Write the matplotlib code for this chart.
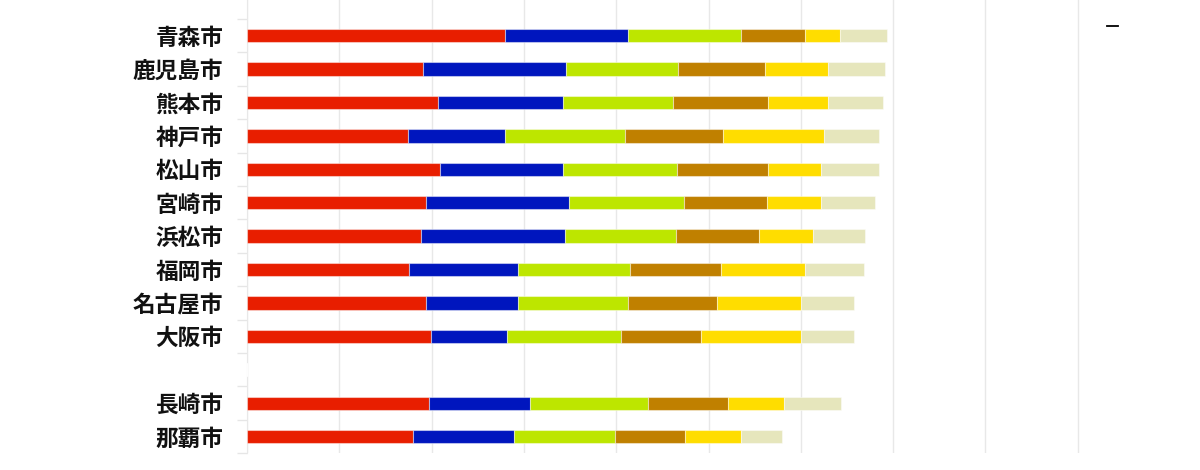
import matplotlib.pyplot as plt
import numpy as np
from matplotlib.lines import Line2D

plt.rcParams['font.family'] = ['Noto Sans CJK JP', 'DejaVu Sans']

# 都市 (上から順に), None = 空きスロット
cities = ['青森市', '鹿児島市', '熊本市', '神戸市', '松山市', '宮崎市', '浜松市',
          '福岡市', '名古屋市', '大阪市', None, '長崎市', '那覇市']

# 各系列の値 (空きスロットは 0)
s1 = [28.0, 19.1, 20.7, 17.4, 20.9, 19.4, 18.8, 17.5, 19.4, 19.9, 0, 19.7, 18.0]
s2 = [13.3, 15.5, 13.5, 10.6, 13.3, 15.5, 15.7, 11.9, 10.0, 8.3, 0, 11.0, 10.9]
s3 = [12.2, 12.1, 11.9, 12.9, 12.4, 12.4, 12.0, 12.1, 11.9, 12.3, 0, 12.7, 11.0]
s4 = [7.0, 9.4, 10.4, 10.7, 9.9, 9.0, 9.0, 9.9, 9.6, 8.7, 0, 8.7, 7.6]
s5 = [3.8, 6.9, 6.5, 10.9, 5.7, 5.9, 5.8, 9.1, 9.1, 10.8, 0, 6.1, 6.0]
s6 = [5.0, 6.1, 5.9, 6.0, 6.3, 5.8, 5.7, 6.3, 5.8, 5.8, 0, 6.2, 4.5]

series = [s1, s2, s3, s4, s5, s6]
colors = ['#E81E00', '#0016BE', '#BDE600', '#C08000', '#FFDD00', '#E6E6BC']

fig = plt.figure(figsize=(12, 4.7), dpi=100)
ax = fig.add_axes([247/1200, (470-453.3)/470, (1170-247)/1200, 453.3/470])

y = np.arange(len(cities))
left = np.zeros(len(cities))
for vals, c in zip(series, colors):
    vals = np.array(vals)
    ax.barh(y, vals, left=left, height=0.4, color=c,
            edgecolor=(1, 1, 1, 0.45), linewidth=0.8, zorder=3)
    left += vals

ax.set_xlim(0, 100)
ax.set_ylim(12.5, -0.5 - 19/33.45)

# 縦のグリッド線
ax.set_xticks(np.arange(0, 100, 10))
ax.tick_params(axis='x', length=0, labelbottom=False)
ax.grid(axis='x', color='#e8e8e8', linewidth=1, zorder=0)

# カテゴリ名と境界の目盛り
ax.set_yticks(y)
ax.set_yticklabels([c if c else '' for c in cities], fontsize=16.3,
                   fontweight='bold', color='#111111')
ax.tick_params(axis='y', length=0, pad=17)
ax.set_yticks(np.arange(-0.5, 13, 1), minor=True)
ax.tick_params(axis='y', which='minor', length=7, color='#e6e6e6', width=1)

for sp in ['top', 'right', 'bottom']:
    ax.spines[sp].set_visible(False)
ax.spines['left'].set_color('#e8e8e8')

# 右上の小さなダッシュ
fig.add_artist(Line2D([1107/1200, 1118/1200], [1 - 26/470, 1 - 26/470],
                      color='black', linewidth=1.3, transform=fig.transFigure))

fig.savefig('out.png', dpi=100)
